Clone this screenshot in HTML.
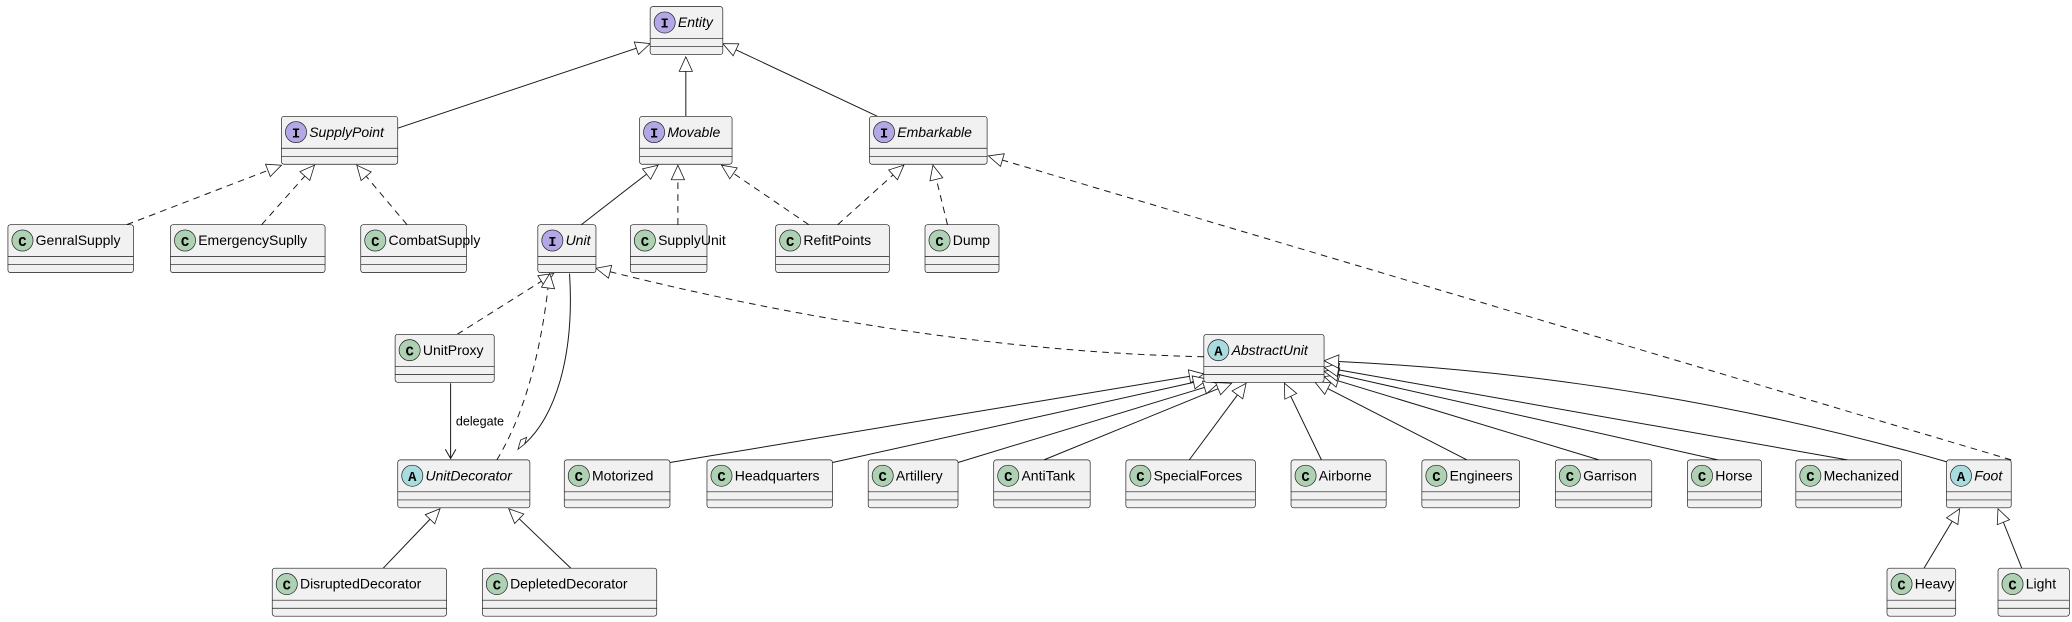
<!DOCTYPE html>
<html><head><meta charset="utf-8"><style>
html,body{margin:0;padding:0;background:#fff;width:2072px;height:622px;overflow:hidden}
svg{display:block}
.n{font-family:"Liberation Sans",sans-serif;font-size:10.6px;fill:#000}
.i{font-style:italic}
.l{font-family:"Liberation Mono",monospace;font-size:10.5px;font-weight:bold;text-anchor:middle;fill:#000}
</style></head><body>
<svg id="s" width="2072" height="622" viewBox="0 0 1568 470.7" xmlns="http://www.w3.org/2000/svg">
<g id="edges"></g>
<g id="boxes"></g>
<g id="txt" transform="translate(0,-2.5)">
<text class="l" x="503" y="23.5">I</text><text class="n i" x="513" y="23">Entity</text>
<text class="l" x="224" y="106.5">I</text><text class="n i" x="234" y="106">SupplyPoint</text>
<text class="l" x="495" y="106.5">I</text><text class="n i" x="505" y="106">Movable</text>
<text class="l" x="669" y="106.5">I</text><text class="n i" x="679" y="106">Embarkable</text>
<text class="l" x="17" y="188.5">C</text><text class="n" x="27" y="188">GenralSupply</text>
<text class="l" x="140" y="188.5">C</text><text class="n" x="150" y="188">EmergencySuplly</text>
<text class="l" x="284" y="188.5">C</text><text class="n" x="294" y="188">CombatSupply</text>
<text class="l" x="418" y="188.5">I</text><text class="n i" x="428" y="188">Unit</text>
<text class="l" x="488" y="188.5">C</text><text class="n" x="498" y="188">SupplyUnit</text>
<text class="l" x="598" y="188.5">C</text><text class="n" x="608" y="188">RefitPoints</text>
<text class="l" x="711" y="188.5">C</text><text class="n" x="721" y="188">Dump</text>
<text class="l" x="310" y="271.5">C</text><text class="n" x="320" y="271">UnitProxy</text>
<text class="l" x="922" y="271.5">A</text><text class="n i" x="932" y="271">AbstractUnit</text>
<text class="l" x="312" y="366.5">A</text><text class="n i" x="322" y="366">UnitDecorator</text>
<text class="l" x="438" y="366.5">C</text><text class="n" x="448" y="366">Motorized</text>
<text class="l" x="546" y="366.5">C</text><text class="n" x="556" y="366">Headquarters</text>
<text class="l" x="668" y="366.5">C</text><text class="n" x="678" y="366">Artillery</text>
<text class="l" x="763" y="366.5">C</text><text class="n" x="773" y="366">AntiTank</text>
<text class="l" x="863" y="366.5">C</text><text class="n" x="873" y="366">SpecialForces</text>
<text class="l" x="988" y="366.5">C</text><text class="n" x="998" y="366">Airborne</text>
<text class="l" x="1087" y="366.5">C</text><text class="n" x="1097" y="366">Engineers</text>
<text class="l" x="1188" y="366.5">C</text><text class="n" x="1198" y="366">Garrison</text>
<text class="l" x="1288" y="366.5">C</text><text class="n" x="1298" y="366">Horse</text>
<text class="l" x="1370" y="366.5">C</text><text class="n" x="1380" y="366">Mechanized</text>
<text class="l" x="1484" y="366.5">A</text><text class="n i" x="1494" y="366">Foot</text>
<text class="l" x="217" y="448.5">C</text><text class="n" x="227" y="448">DisruptedDecorator</text>
<text class="l" x="376" y="448.5">C</text><text class="n" x="386" y="448">DepletedDecorator</text>
<text class="l" x="1439" y="448.5">C</text><text class="n" x="1449" y="448">Heavy</text>
<text class="l" x="1523" y="448.5">C</text><text class="n" x="1533" y="448">Light</text>
</g>
<text class="n" x="345" y="322" style="font-size:9.5px">delegate</text>
</svg>
<script>
var NS="http://www.w3.org/2000/svg";
function el(p,t,a){var e=document.createElementNS(NS,t);for(var k in a)e.setAttribute(k,a[k]);p.appendChild(e);return e;}
var B=[
[492,547,5,"I"],[213,301,88,"I"],[484,554,88,"I"],[658,747,88,"I"],
[6,101,170,"C"],[129,246,170,"C"],[273,353,170,"C"],[407,451,170,"I"],[477,535,170,"C"],[587,673,170,"C"],[700,756,170,"C"],
[299,374,253,"C"],[911,1002,253,"A"],
[301,401,348,"A"],[427,507,348,"C"],[535,630,348,"C"],[657,725,348,"C"],[752,825,348,"C"],[852,950,348,"C"],[977,1049,348,"C"],[1076,1150,348,"C"],[1177,1250,348,"C"],[1277,1333,348,"C"],[1359,1439,348,"C"],[1473,1522,348,"A"],
[206,338,430,"C"],[365,497,430,"C"],[1428,1480,430,"C"],[1512,1566,430,"C"]];
var col={I:"#b4a7e5",C:"#add1b2",A:"#a9dcdf"};
var bg=document.getElementById("boxes");
B.forEach(function(b){var x=b[0],w=b[1]-b[0],y=b[2];
el(bg,"rect",{x:x,y:y,width:w,height:36.3,rx:2,fill:"#f1f1f1",stroke:"#181818","stroke-width":0.5});
el(bg,"line",{x1:x,x2:x+w,y1:y+24.2,y2:y+24.2,stroke:"#181818","stroke-width":0.5});
el(bg,"line",{x1:x,x2:x+w,y1:y+30.3,y2:y+30.3,stroke:"#181818","stroke-width":0.5});
el(bg,"circle",{cx:x+11,cy:y+12,r:8,fill:col[b[3]],stroke:"#181818","stroke-width":0.5});
});
var eg=document.getElementById("edges");
function tri(x1,y1,x2,y2){var dx=x2-x1,dy=y2-y1,L=Math.sqrt(dx*dx+dy*dy);dx/=L;dy/=L;
var bx=x2-dx*11,by=y2-dy*11,px=-dy*5,py=dx*5;
el(eg,"polygon",{points:x2+","+y2+" "+(bx+px)+","+(by+py)+" "+(bx-px)+","+(by-py),fill:"#fff",stroke:"#181818","stroke-width":0.6});
return [bx,by];}
function E(x1,y1,x2,y2,dash,cx,cy){var d=cx!==undefined?[cx,cy]:[x1,y1];
var b=tri(d[0],d[1],x2,y2);
var p=cx!==undefined?"M"+x1+","+y1+" Q"+cx+","+cy+" "+b[0]+","+b[1]:"M"+x1+","+y1+" L"+b[0]+","+b[1];
var a={d:p,fill:"none",stroke:"#181818","stroke-width":0.75};if(dash)a["stroke-dasharray"]="5,4";
el(eg,"path",a);}
E(301,97,492,33);E(519,88,519,43);E(664,88,547,33);
E(96,170,213,125,1);E(198,170,238,125,1);E(308,170,270,125,1);
E(440,170,498,125);E(513,170,513,125,1);E(612,170,546,125,1);
E(634,170,684,125,1);E(717,170,706,125,1);E(1522,348,748,118,1);
E(346,253,419,207,1);E(376,348,416,207,1,405,300);E(911,270,451,203,1,700,265);
E(507,350,911,283);E(630,350,914,287);E(725,350,922,290);E(790,348,932,290);E(900,348,943,290);
E(1000,348,972,290);E(1110,348,995,289);E(1210,348,1002,285);E(1300,348,1002,281);E(1398,348,1002,278);
E(1475,350,1002,273,0,1250,285);
E(290,430,333,385);E(432,430,385,385);E(1456,430,1483,385);E(1530,430,1512,385);
el(eg,"path",{d:"M431,207 C435,270 420,315 397,336",fill:"none",stroke:"#181818","stroke-width":0.75});
el(eg,"polygon",{points:"397,336 398.5,331 394,333 392,340",fill:"#fff",stroke:"#181818","stroke-width":0.6});
el(eg,"path",{d:"M341,290 L341,347 M337,340 L341,347 L345,340",fill:"none",stroke:"#181818","stroke-width":0.75});
</script>
</body></html>
